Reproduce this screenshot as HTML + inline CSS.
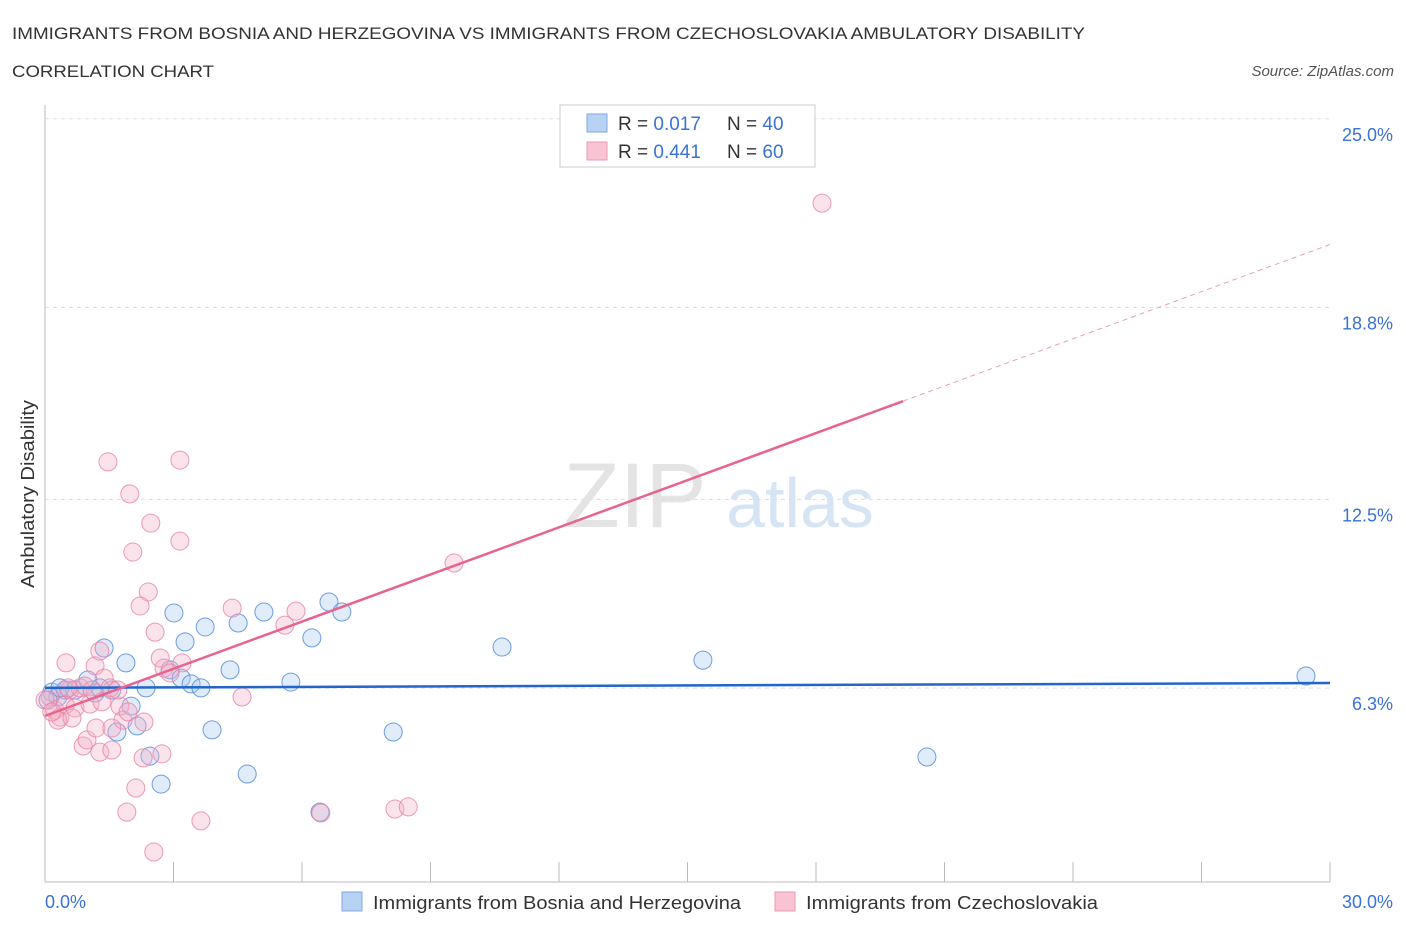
<!DOCTYPE html>
<html><head><meta charset="utf-8"><style>
body{margin:0;background:#fff;font-family:"Liberation Sans",sans-serif;}
svg text{font-family:"Liberation Sans",sans-serif;}
</style></head><body>
<svg id="c" width="1406" height="930">
<text x="12" y="39" font-size="17" fill="#333" textLength="1073" lengthAdjust="spacingAndGlyphs">IMMIGRANTS FROM BOSNIA AND HERZEGOVINA VS IMMIGRANTS FROM CZECHOSLOVAKIA AMBULATORY DISABILITY</text>
<text x="12" y="77" font-size="17" fill="#333" textLength="202" lengthAdjust="spacingAndGlyphs">CORRELATION CHART</text>
<text x="1394" y="76" font-size="15" fill="#555" text-anchor="end" font-style="italic">Source: ZipAtlas.com</text>
<text x="635" y="527" font-size="92" fill="#e4e4e4" text-anchor="middle" font-family="Liberation Serif">ZIP</text>
<text x="800" y="527" font-size="70" fill="#d6e4f4" text-anchor="middle">atlas</text>
<g id="grid"></g><g id="marks"></g>
<text x="34" y="494" font-size="18" fill="#333" text-anchor="middle" textLength="188" lengthAdjust="spacingAndGlyphs" transform="rotate(-90 34 494)">Ambulatory Disability</text>
<text x="45" y="908" font-size="18" fill="#3a72d8">0.0%</text>
<text x="1393" y="908" font-size="18" fill="#3a72d8" text-anchor="end">30.0%</text>
<g>
<rect x="560" y="105" width="255" height="62" fill="#fff" stroke="#ccc"/>
<rect x="587" y="114" width="20" height="18" fill="#b8d2f4" stroke="#7fa8e0"/>
<rect x="587" y="142" width="20" height="18" fill="#f8c4d4" stroke="#ec9ab4"/>
<text x="618" y="130" font-size="19" fill="#333">R = <tspan fill="#3a72d8">0.017</tspan></text>
<text x="727" y="130" font-size="19" fill="#333">N = <tspan fill="#3a72d8">40</tspan></text>
<text x="618" y="158" font-size="19" fill="#333">R = <tspan fill="#3a72d8">0.441</tspan></text>
<text x="727" y="158" font-size="19" fill="#333">N = <tspan fill="#3a72d8">60</tspan></text>
</g>
<g>
<rect x="342" y="892" width="20" height="19" fill="#b8d2f4" stroke="#7fa8e0"/>
<text x="373" y="909" font-size="18" fill="#333" textLength="368" lengthAdjust="spacingAndGlyphs">Immigrants from Bosnia and Herzegovina</text>
<rect x="775" y="892" width="20" height="19" fill="#f8c4d4" stroke="#ec9ab4"/>
<text x="806" y="909" font-size="18" fill="#333" textLength="292" lengthAdjust="spacingAndGlyphs">Immigrants from Czechoslovakia</text>
</g>
</svg>
<script>
const yTicks=[25.0,18.8,12.5,6.3];
const yTickLabels=["25.0%","18.8%","12.5%","6.3%"];
const xTicks=[0,3,6,9,12,15,18,21,24,27,30];
const blueX=[0.16,0.30,0.47,0.70,1.00,1.17,1.38,1.56,1.89,2.01,1.68,2.15,2.36,2.45,2.71,2.92,3.01,3.18,3.27,3.41,3.64,3.74,3.90,4.32,4.51,4.72,5.11,5.74,6.23,6.42,6.63,6.93,8.13,10.67,15.36,20.59,29.44,0.07,0.35,1.28];
const blueY=[6.17,6.01,6.24,6.24,6.57,6.14,7.62,6.24,7.13,5.71,4.86,5.06,6.31,4.07,3.15,6.90,8.77,6.63,7.82,6.44,6.31,8.31,4.93,6.90,8.44,3.48,8.80,6.50,7.95,2.23,9.13,8.80,4.86,7.65,7.22,4.04,6.70,5.91,6.31,6.31];
const pinkX=[0.12,0.23,0.35,0.47,0.58,0.49,0.70,0.82,0.93,1.05,1.17,1.28,1.38,1.52,1.47,1.98,2.05,2.47,3.15,3.15,2.41,2.22,2.57,2.69,2.78,3.20,2.92,4.37,4.60,5.60,5.86,9.55,18.14,0.89,0.98,1.28,1.56,1.19,1.75,1.82,1.94,2.31,2.29,2.73,2.12,1.91,2.54,3.64,6.44,8.17,8.48,0.30,0.00,0.16,0.63,0.54,1.70,1.10,1.33,1.56];
const pinkY=[6.01,5.58,5.35,5.75,6.24,7.13,5.65,6.31,6.37,5.78,7.03,7.52,6.63,6.31,13.73,12.68,10.77,11.72,13.79,11.13,9.46,9.00,8.14,7.29,6.96,7.13,6.80,8.93,6.01,8.37,8.83,10.41,22.23,4.40,4.60,4.20,4.27,4.99,5.71,5.25,5.52,5.19,4.01,4.14,3.02,2.23,0.92,1.94,2.20,2.33,2.40,5.25,5.91,5.52,5.32,6.31,6.24,6.24,5.85,4.99];
const blueTrend=[6.31,0.0053];
const pinkTrend=[5.39,0.516];
const X=v=>45+v*42.833, Y=v=>880-v*30.45;
const NS="http://www.w3.org/2000/svg";
function mk(p,t,a){const e=document.createElementNS(NS,t);for(const k in a)e.setAttribute(k,a[k]);p.appendChild(e);return e;}
const g=document.getElementById('grid'),m=document.getElementById('marks');
let ax=mk(g,'line',{x1:45,y1:105,x2:45,y2:882,stroke:'#bbb'});


let bx=mk(g,'line',{x1:45,y1:882,x2:1330,y2:882,stroke:'#bbb'});


yTicks.forEach((t,i)=>{
 const l=mk(g,'line',{x1:45,y1:Y(t),x2:1330,y2:Y(t),stroke:'#ddd','stroke-dasharray':'4,4'});
 
 
 const tx=mk(g,'text',{x:1393,y:Y(t)+22,'font-size':18,fill:'#3a72d8','text-anchor':'end'});
 tx.textContent=yTickLabels[i];
 
 
});
xTicks.forEach(t=>{const l=mk(g,'line',{x1:X(t),y1:862,x2:X(t),y2:882,stroke:'#bbb'});
 
 });
function pts(xs,ys,fill,stroke,name){xs.forEach((x,i)=>{const c=mk(m,'circle',{cx:X(x),cy:Y(ys[i]),r:9,fill:fill,'fill-opacity':0.35,stroke:stroke,'stroke-opacity':0.8,'stroke-width':1});
 
 });}
pts(blueX,blueY,'#a8c8f0','#4f86d8','bosnia-point');
pts(pinkX,pinkY,'#f4b0c6','#e882a4','czech-point');
let bl=mk(m,'line',{x1:X(0),y1:Y(blueTrend[0]),x2:X(30),y2:Y(blueTrend[0]+blueTrend[1]*30),stroke:'#2266cc','stroke-width':2.5});


let pl=mk(m,'line',{x1:X(0),y1:Y(pinkTrend[0]),x2:X(20.03),y2:Y(pinkTrend[0]+pinkTrend[1]*20.03),stroke:'#e8638e','stroke-width':2.5});


let pd=mk(m,'line',{x1:X(20.03),y1:Y(pinkTrend[0]+pinkTrend[1]*20.03),x2:X(30),y2:Y(pinkTrend[0]+pinkTrend[1]*30),stroke:'#e8a0b8','stroke-width':1,'stroke-dasharray':'5,4'});


</script>
</body></html>
